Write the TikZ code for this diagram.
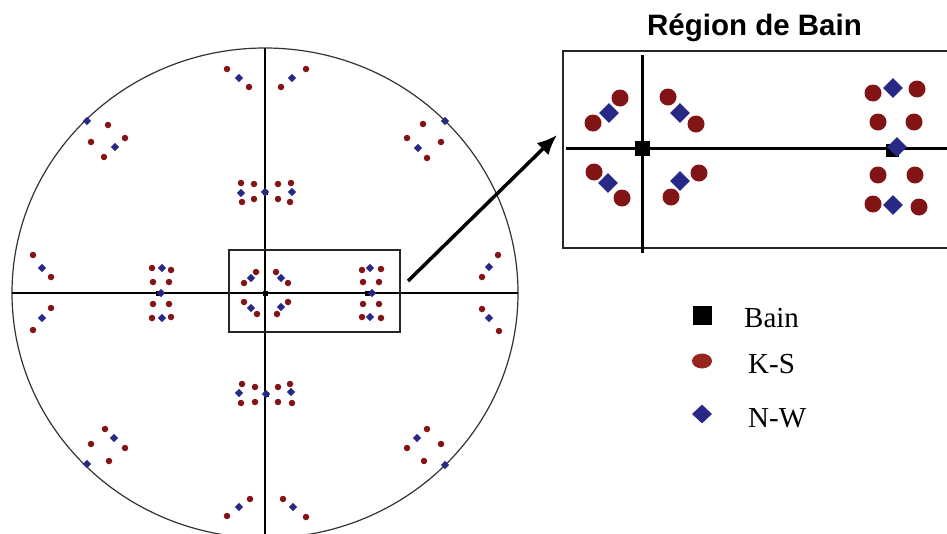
\documentclass[tikz,border=0pt]{standalone}
\usepackage{fontspec}
\setmainfont{Liberation Serif}
\newfontfamily\titlefont{Liberation Sans}
\usetikzlibrary{shapes.geometric,arrows.meta}
\definecolor{ksred}{RGB}{130,20,22}
\definecolor{nwblue}{RGB}{40,40,135}
\definecolor{legred}{RGB}{150,38,30}
\begin{document}
\begin{tikzpicture}[x=1pt,y=-1pt,
  ks/.style={circle,fill=ksred,inner sep=0pt,minimum size=6.5pt},
  nw/.style={diamond,fill=nwblue,inner sep=0pt,minimum size=8.5pt},
  bainm/.style={rectangle,fill=black,inner sep=0pt,minimum size=5pt},
  bigks/.style={ks,minimum size=17pt},
  bignw/.style={nw,minimum size=20pt},
  bigbain/.style={bainm,minimum size=15pt},
  axis/.style={black,line width=2pt},
  bigaxis/.style={black,line width=3pt},
  frame/.style={draw=black!85,line width=1.6pt},
  legtext/.style={anchor=base west,inner sep=0pt,font=\fontsize{29}{34}\selectfont}
]
\useasboundingbox (0,0) rectangle (947,533);

% ---------- main pole figure ----------
\node[draw=black!80,line width=1.2pt,ellipse,minimum width=506pt,minimum height=490pt,inner sep=0pt] (pf) at (265,293) {};
\coordinate (hL) at (12,293);
\coordinate (hR) at (518,293);
\coordinate (vT) at (265,48);
\coordinate (vB) at (265,540);
\draw[axis] (hL) -- (hR);
\draw[axis] (vT) -- (vB);

\node[frame,rectangle,inner sep=0pt,minimum width=171pt,minimum height=82pt] (zoomrect) at (314.5,291) {};

% Bain squares
\foreach \x/\y [count=\i] in {265/293,158/293,367/293,265/192,266/394}
  \node[bainm] (bm\i) at (\x,\y) {};

% K-S circles
\foreach \x/\y [count=\i] in {
  244/283,256/272,276/272,288/283,244/302,257/314,288/302,277/314,
  362/270,381/269,363/282,379/282,363/304,379/304,362/317,381/318,
  152/268,171/270,153/282,169/282,153/304,169/304,152/318,171/317,
  241/183,254/184,242/202,254/199,278/184,291/183,278/199,290/202,
  242/384,255/387,241/403,255/402,278/387,290/384,278/402,292/403,
  227/69,249/87,281/87,306/69,
  250/499,227/516,283/499,306/517,
  33/255,51/277,51/308,33/330,
  498/255,482/277,482/309,499/331,
  108/125,91/142,125/138,104/157,
  423/124,407/138,441/142,427/158,
  427/429,407/448,441/444,424/461,
  105/429,125/448,91/444,109/461}
  \node[ks] (k\i) at (\x,\y) {};

% N-W diamonds
\foreach \x/\y [count=\i] in {
  251/278,281/278,251/308,281/307,
  370/268,372/293,370/317,
  162/268,161/293,162/318,
  241/193,265/192,292/192,
  239/393,266/394,291/392,
  239/78,292/78,
  239/507,293/507,
  42/268,42/318,
  489/267,489/318,
  87/121,115/147,
  445/121,418/148,
  417/438,445/465,
  114/438,87/464}
  \node[nw] (n\i) at (\x,\y) {};

% ---------- inset ----------
\node[font=\titlefont\bfseries\fontsize{29.5}{34}\selectfont,anchor=base,inner sep=0pt] (title) at (754.5,35) {Région de Bain};
\node[frame,rectangle,inner sep=0pt,minimum width=407pt,minimum height=197pt] (inset) at (766.5,149.5) {};
\coordinate (ivT) at (642,55);
\coordinate (ivB) at (642,253);
\coordinate (ihL) at (566,148);
\coordinate (ihR) at (960,148);
\draw[bigaxis] (ivT) -- (ivB);
\draw[bigaxis] (ihL) -- (ihR);

\node[bigbain] (B1) at (642,148) {};
\node[bigbain,minimum size=13pt] (B2) at (892,150) {};

\foreach \x/\y [count=\i] in {
  620/98,593/123,668/97,696/124,594/172,622/198,699/173,671/197,
  873/93,917/89,878/122,914/122,878/175,915/175,873/204,919/207}
  \node[bigks] (K\i) at (\x,\y) {};
\foreach \x/\y [count=\i] in {
  609/113,680/113,608/183,680/181,893/88,897/147,893/205}
  \node[bignw] (N\i) at (\x,\y) {};

% ---------- arrow ----------
\coordinate (arS) at (408,281);
\coordinate (arE) at (557,135);
\draw[black,line width=3.5pt,-{Latex[length=20pt,width=17pt]}] (arS) -- (arE);

% ---------- legend ----------
\node[rectangle,fill=black,inner sep=0pt,minimum size=19pt] (lb) at (702,315) {};
\node[ellipse,fill=legred,inner sep=0pt,minimum width=20pt,minimum height=15pt] (lk) at (702,361) {};
\node[diamond,fill=nwblue,inner sep=0pt,minimum width=20pt,minimum height=19pt] (ln) at (702,414) {};
\node[legtext] (tb) at (744,327) {Bain};
\node[legtext] (tk) at (748,373) {K-S};
\node[legtext] (tn) at (748,427) {N-W};
\end{tikzpicture}
\end{document}
